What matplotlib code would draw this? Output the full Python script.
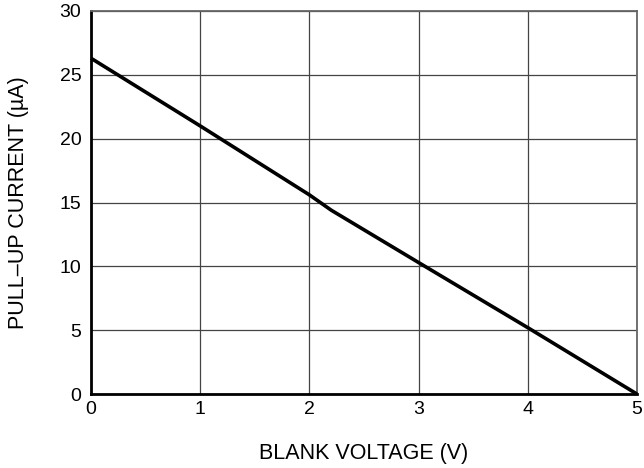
import matplotlib.pyplot as plt

# Values
blank_voltage = [0.0, 1.0, 2.0, 2.2, 3.0, 4.0, 5.0]
pullup_current = [26.3, 21.0, 15.6, 14.4, 10.3, 5.2, 0.0]

x_ticks = [0, 1, 2, 3, 4, 5]
y_ticks = [0, 5, 10, 15, 20, 25, 30]

plt.rcParams["font.family"] = ["Liberation Sans", "DejaVu Sans"]

fig = plt.figure(figsize=(6.44, 4.68), dpi=100)
ax = fig.add_axes([0.1413, 0.158, 0.8478, 0.8185])

ax.plot(blank_voltage, pullup_current, color="black", linewidth=2.6,
        solid_capstyle="butt", zorder=3, clip_on=False)

ax.set_xlim(0, 5)
ax.set_ylim(0, 30)
ax.set_xticks(x_ticks)
ax.set_yticks(y_ticks)
ax.grid(True, color="#444444", linewidth=0.9)
ax.tick_params(length=0, labelsize=14)
ax.tick_params(axis="x", pad=5)
ax.tick_params(axis="y", pad=7)

for side in ("left", "bottom"):
    ax.spines[side].set_linewidth(2.0)
    ax.spines[side].set_color("black")
for side in ("top", "right"):
    ax.spines[side].set_linewidth(1.3)
    ax.spines[side].set_color("#666666")

ax.set_xlabel("BLANK VOLTAGE (V)", fontsize=15.5, labelpad=18)
ax.set_ylabel("PULL\u2013UP CURRENT (\u00b5A)", fontsize=15.5, labelpad=22)

fig.savefig("out.png", dpi=100)
